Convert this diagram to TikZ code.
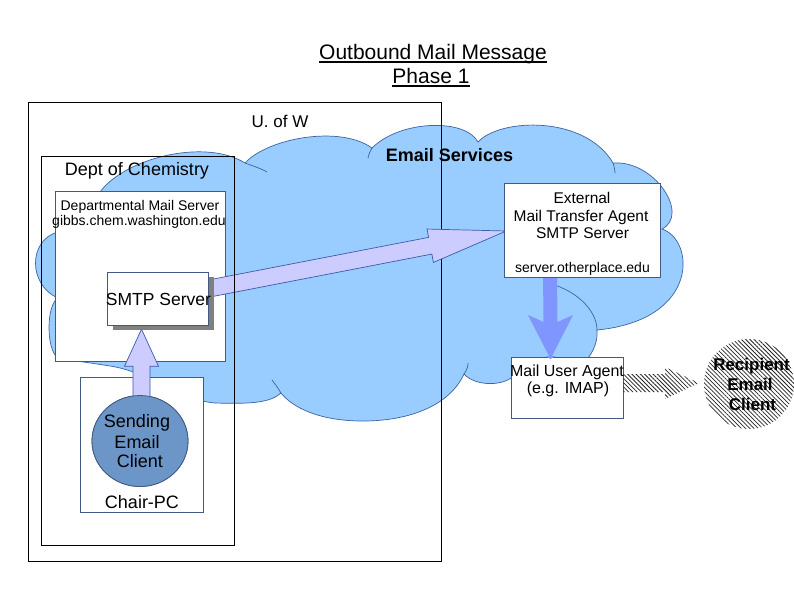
\documentclass[tikz,border=0pt]{standalone}
\usepackage{fontspec}
\setmainfont{Liberation Sans}
\usetikzlibrary{calc,patterns.meta,shapes.geometric}
\definecolor{cloudfill}{RGB}{153,204,255}
\definecolor{cloudline}{RGB}{60,100,160}
\definecolor{boxline}{RGB}{65,90,130}
\definecolor{lav}{RGB}{204,204,255}
\definecolor{arrowline}{RGB}{60,90,170}
\definecolor{downblue}{RGB}{128,150,255}
\definecolor{sendfill}{RGB}{108,150,200}
\definecolor{shadowgray}{RGB}{128,128,128}
\newcommand{\fsz}[1]{\fontsize{#1}{#1}\selectfont}
\newcommand{\blockarrow}[6]{%
  \coordinate (tmpbase) at ($(#3)!#6!(#2)$);
  \path[#1] ($(#2)!#4!90:(#3)$) -- ($(tmpbase)!#4!-90:(#2)$) -- ($(tmpbase)!#5!-90:(#2)$)
    -- (#3) -- ($(tmpbase)!#5!90:(#2)$) -- ($(tmpbase)!#4!90:(#2)$) -- ($(#2)!#4!-90:(#3)$) -- cycle;}
\tikzset{
  txt/.style={inner sep=0pt, anchor=base, text=black},
  frame/.style={draw=black, line width=0.9pt, inner sep=0pt},
  sbox/.style={draw=boxline, fill=white, line width=0.8pt, inner sep=0pt},
  cloudstyle/.style={fill=cloudfill, draw=cloudline, line width=0.7pt},
  cloudinner/.style={draw=cloudline, line width=0.7pt},
  lavarrow/.style={fill=lav, draw=arrowline, line width=0.7pt, line join=miter},
  hatch/.style={pattern={Lines[angle=-45,distance=3pt,line width=0.75pt]}, pattern color=black!85},
}
\begin{document}
\begin{tikzpicture}[x=1pt,y=-1pt]
\useasboundingbox (0,0) rectangle (794,595);
\fill[white] (0,0) rectangle (794,595);

% cloud
\path[cloudstyle] (100,192)
  .. controls (125,158) and (205,138) .. (245,163)
  .. controls (268,138) and (340,125) .. (372,148)
  .. controls (400,120) and (465,118) .. (478,142)
  .. controls (500,118) and (585,115) .. (613,163)
  .. controls (655,160) and (690,215) .. (662,229)
  .. controls (695,240) and (700,320) .. (597,330)
  .. controls (600,370) and (540,395) .. (511,378)
  .. controls (500,386) and (475,386) .. (464,374)
  .. controls (450,405) and (410,421) .. (363,421)
  .. controls (320,421) and (293,408) .. (281,393)
  .. controls (270,403) and (250,404) .. (215,403)
  .. controls (180,400) and (150,372) .. (110,366)
  .. controls (85,362) and (68,360) .. (58,358)
  .. controls (46,350) and (46,305) .. (58,298)
  .. controls (28,285) and (28,240) .. (58,232)
  -- cycle;
\draw[cloudinner] (245,163) .. controls (253,166) and (260,168) .. (267,172);
\draw[cloudinner] (368,158) .. controls (369,154) and (370,151) .. (372,148);
\draw[cloudinner] (613,163) .. controls (614,166) and (615,170) .. (615,173);
\draw[cloudinner] (543,282) .. controls (575,288) and (597,310) .. (597,330);
\draw[cloudinner] (464,374) .. controls (467,370) and (468,366) .. (468,363);
\draw[cloudinner] (281,393) .. controls (278,388) and (275,384) .. (272,380);

% frames
\node[frame, minimum width=413pt, minimum height=459pt] (uw) at (234.5,331.5) {};
\node[sbox, minimum width=170pt, minimum height=170pt] (dms) at (140,276) {};
\node[inner sep=0pt, minimum width=101pt, minimum height=53pt] (smtp) at (157.5,298.5) {};

% big arrow to external MTA
\node[inner sep=0pt, minimum width=156pt, minimum height=94pt] (mta) at (582,230) {};
\coordinate (bigtip) at ([xshift=2.5pt,yshift=-1pt]mta.west);
\blockarrow{lavarrow}{smtp.center}{bigtip}{8.5pt}{17pt}{77.5pt}

\node[frame, minimum width=193pt, minimum height=389pt] (dept) at (137.5,350.5) {};

% chair pc and sending client
\node[sbox, minimum width=123pt, minimum height=135pt] (chair) at (141.5,444.5) {};
\node[ellipse, draw=boxline, fill=sendfill, line width=0.8pt, minimum width=96pt, minimum height=91pt, inner sep=0pt] (send) at (140,441) {};
\coordinate (upS) at ([xshift=1.5pt,yshift=-12pt]send.north);
\coordinate (upT) at ([xshift=-16pt,yshift=-4pt]smtp.south);
\blockarrow{lavarrow}{upS}{upT}{8.5pt}{17pt}{37pt}
\node[ellipse, draw=boxline, fill=sendfill, line width=0.8pt, minimum width=96pt, minimum height=91pt, inner sep=0pt] at (send) {};

% SMTP server box with shadow
\fill[shadowgray] ([xshift=6pt,yshift=-5pt]smtp.south west) rectangle ([xshift=6pt,yshift=-5pt]smtp.north east);
\node[sbox, minimum width=101pt, minimum height=53pt] at (smtp) {};

% external MTA box, down arrow, MUA
\coordinate (dA) at (550,272);
\coordinate (dB) at (550.5,359);
\fill[downblue] ($(dA)+(-7,0)$) -- ($(dB)+(-7,-37)$) -- ($(dB)+(-22.5,-44)$) -- (dB)
  -- ($(dB)+(22.5,-44)$) -- ($(dB)+(7,-37)$) -- ($(dA)+(7,0)$) -- cycle;
\node[sbox, minimum width=156pt, minimum height=94pt] at (mta) {};
\node[sbox, minimum width=112pt, minimum height=61pt] (mua) at (567,387.5) {};
\fill[downblue] ($(dB)+(-5,-3)$) -- (dB) -- ($(dB)+(5,-3)$) -- cycle;

% hatched arrow and recipient
\coordinate (hA) at ([yshift=4.5pt]mua.east);
\coordinate (hB) at (699,383);
\blockarrow{hatch}{hA}{hB}{9pt}{16pt}{34pt}
\node[circle, hatch, minimum size=90pt, inner sep=0pt] (recip) at (749,384) {};

% texts
\node[txt, font=\fsz{21}] (title1) at (433,59) {Outbound Mail Message};
\node[txt, font=\fsz{21}] (title2) at (431,83) {Phase 1};
\draw[line width=1.1pt] ([yshift=-3pt]title1.base west) -- ([yshift=-3pt]title1.base east);
\draw[line width=1.1pt] ([yshift=-3pt]title2.base west) -- ([yshift=-3pt]title2.base east);
\node[txt, font=\fsz{17}] (uwl) at (280,127) {U. of W};
\node[txt, font=\fsz{18}] (deptl) at (137,175) {Dept of Chemistry};
\node[txt, font=\fsz{18}\bfseries] (esl) at (449.5,161) {Email Services};
\node[txt, font=\fsz{14}] (dms1) at (140,210.5) {Departmental Mail Server};
\node[txt, font=\fsz{14}] (dms2) at (139,225) {gibbs.chem.washington.edu};
\node[txt, font=\fsz{17.5}] (smtpl) at (158.5,305) {SMTP Server};
\node[txt, font=\fsz{18}] (send1) at (137,427) {Sending};
\node[txt, font=\fsz{18}] (send2) at (137,448) {Email};
\node[txt, font=\fsz{18}] (send3) at (140,467) {Client};
\node[txt, font=\fsz{18}] (chairl) at (142,508) {Chair-PC};
\node[txt, font=\fsz{15.5}] (mta1) at (582,203) {External};
\node[txt, font=\fsz{15.5}] (mta2) at (581,221) {Mail Transfer Agent};
\node[txt, font=\fsz{15.5}] (mta3) at (582.5,238) {SMTP Server};
\node[txt, font=\fsz{14}] (mta4) at (582.5,272) {server.otherplace.edu};
\node[txt, font=\fsz{16}] (mua1) at (567,376) {Mail User Agent};
\node[txt, font=\fsz{16}] (mua2) at (568,393) {(e.g. IMAP)};
\node[txt, font=\fsz{17}\bfseries] (rec1) at (751.5,370) {Recipient};
\node[txt, font=\fsz{17}\bfseries] (rec2) at (750,390) {Email};
\node[txt, font=\fsz{17}\bfseries] (rec3) at (752.5,410) {Client};
\end{tikzpicture}
\end{document}
